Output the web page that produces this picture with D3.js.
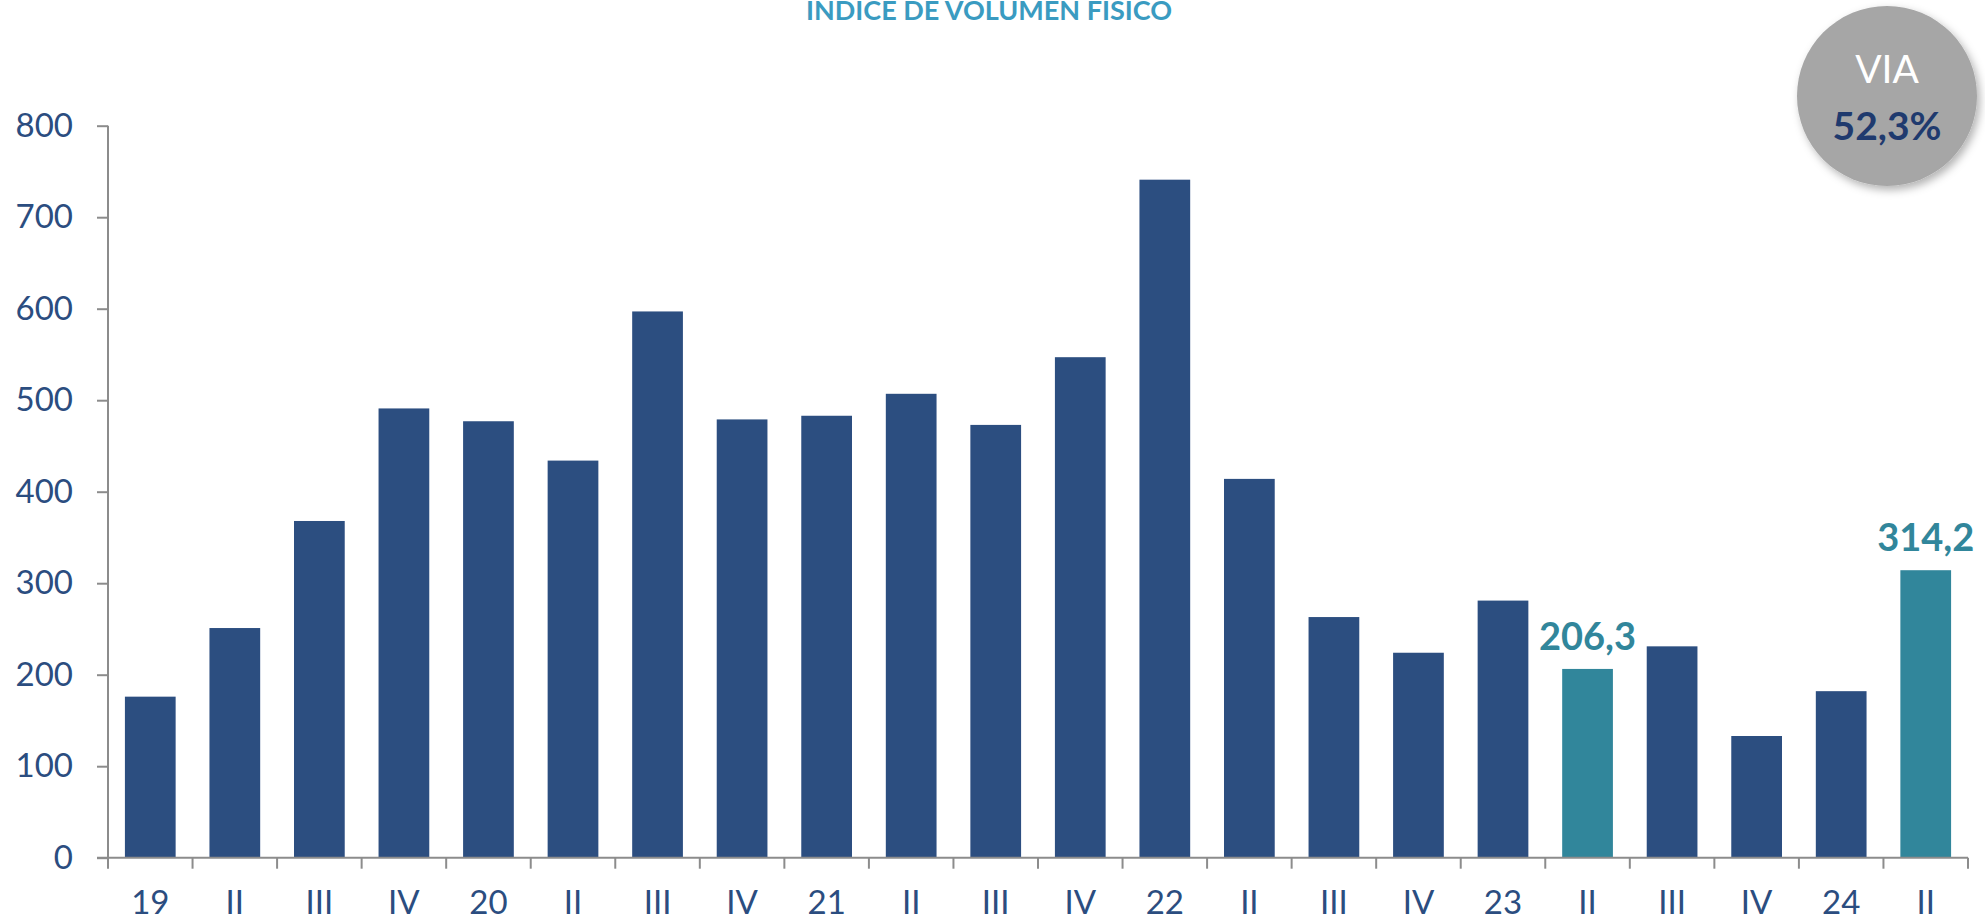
<!DOCTYPE html>
<html>
<head>
<meta charset="utf-8">
<script src="https://cdn.jsdelivr.net/npm/d3@7"></script>
<style>
    body { margin: 0; background: #fff; }
    svg { display: block; font-family: Lato, "Noto Sans", sans-serif; }
    .axis path, .axis line { stroke: #8c8c8c; stroke-width: 2; }
    .axis text { fill: #2b4d80; font-size: 33px; font-family: Lato, "Noto Sans", sans-serif; }
</style>
</head>
<body>
<div id="chart"></div>
<script>
// Categories (quarters) and series values
var categories = ["19", "II", "III", "IV", "20", "II", "III", "IV", "21", "II", "III", "IV",
                  "22", "II", "III", "IV", "23", "II", "III", "IV", "24", "II"];
var values = [176, 251, 368, 491, 477, 434, 597, 479, 483, 507, 473, 547,
              741, 414, 263, 224, 281, 206.3, 231, 133, 182, 314.2];
// Highlighted bars and their labels
var highlightIndex = [17, 21];
var highlightLabels = ["206,3", "314,2"];
var yTicks = [0, 100, 200, 300, 400, 500, 600, 700, 800];

var title = "ÍNDICE DE VOLUMEN FÍSICO";
var badgeTop = "VIA";
var badgeValue = "52,3%";

var mainColor = "#2c4e80";
var highlightColor = "#31869b";

var width = 1985, height = 919;
var margin = {top: 125.7, left: 108, right: 17, bottom: 61.3};

var svg = d3.select("#chart").append("svg")
    .attr("width", width)
    .attr("height", height);

var defs = svg.append("defs");
defs.append("filter")
    .attr("id", "shadow")
    .attr("x", "-20%").attr("y", "-20%")
    .attr("width", "150%").attr("height", "150%")
    .append("feDropShadow")
    .attr("dx", 3).attr("dy", 4)
    .attr("stdDeviation", 4)
    .attr("flood-color", "#000")
    .attr("flood-opacity", 0.3);

// Scales
var xScale = d3.scaleBand()
    .domain(d3.range(categories.length))
    .range([margin.left, width - margin.right])
    .paddingInner(0.4)
    .paddingOuter(0.2);

var yScale = d3.scaleLinear()
    .domain([0, 800])
    .range([height - margin.bottom, margin.top]);

// Title
svg.append("text")
    .attr("x", 989)
    .attr("y", 20)
    .attr("text-anchor", "middle")
    .style("font-size", "27px")
    .style("font-weight", "700")
    .style("fill", "#3a9bc1")
    .text(title);

// Bars
svg.selectAll(".bar")
    .data(values)
    .enter().append("rect")
    .attr("class", "bar")
    .attr("x", function(d, i) { return xScale(i); })
    .attr("y", function(d) { return yScale(d); })
    .attr("width", xScale.bandwidth())
    .attr("height", function(d) { return yScale(0) - yScale(d); })
    .attr("fill", function(d, i) {
        return highlightIndex.indexOf(i) >= 0 ? highlightColor : mainColor;
    });

// Value labels on highlighted bars
svg.selectAll(".value-label")
    .data(highlightIndex)
    .enter().append("text")
    .attr("class", "value-label")
    .attr("x", function(i) { return xScale(i) + xScale.bandwidth() / 2; })
    .attr("y", function(i) { return yScale(values[i]) - 19; })
    .attr("text-anchor", "middle")
    .style("font-size", "38px")
    .style("font-weight", "700")
    .style("fill", highlightColor)
    .text(function(i, k) { return highlightLabels[k]; });

// Y axis
var yAxis = d3.axisLeft(yScale)
    .tickValues(yTicks)
    .tickSize(11)
    .tickPadding(24)
    .tickFormat(d3.format("d"));
svg.append("g")
    .attr("class", "axis y-axis")
    .attr("transform", "translate(" + margin.left + ",0)")
    .call(yAxis)
    .call(function(g) { g.select(".domain").attr("d", "M0," + yScale(800) + "V" + yScale(0)); });

// X axis (ticks between categories)
var xAxis = d3.axisBottom(xScale)
    .tickSize(0)
    .tickPadding(33)
    .tickFormat(function(i) { return categories[i]; });
var xAxisGroup = svg.append("g")
    .attr("class", "axis x-axis")
    .attr("transform", "translate(0," + yScale(0) + ")")
    .call(xAxis);
xAxisGroup.select(".domain")
    .attr("d", "M" + (margin.left - 11) + ",0H" + (width - margin.right));
xAxisGroup.selectAll(".sep")
    .data(d3.range(categories.length + 1))
    .enter().append("line")
    .attr("class", "sep")
    .attr("x1", function(i) { return margin.left + i * xScale.step(); })
    .attr("x2", function(i) { return margin.left + i * xScale.step(); })
    .attr("y1", 0)
    .attr("y2", 11);

// Badge
var badge = svg.append("g").attr("transform", "translate(1887,96)");
badge.append("circle")
    .attr("r", 90)
    .attr("fill", "#a6a6a6")
    .attr("filter", "url(#shadow)");
badge.append("text")
    .attr("y", -13)
    .attr("text-anchor", "middle")
    .style("font-size", "39px")
    .style("fill", "#fff")
    .text(badgeTop);
badge.append("text")
    .attr("y", 44)
    .attr("text-anchor", "middle")
    .style("font-size", "39px")
    .style("font-weight", "700")
    .style("fill", "#1f3a6e")
    .text(badgeValue);
</script>
</body>
</html>
